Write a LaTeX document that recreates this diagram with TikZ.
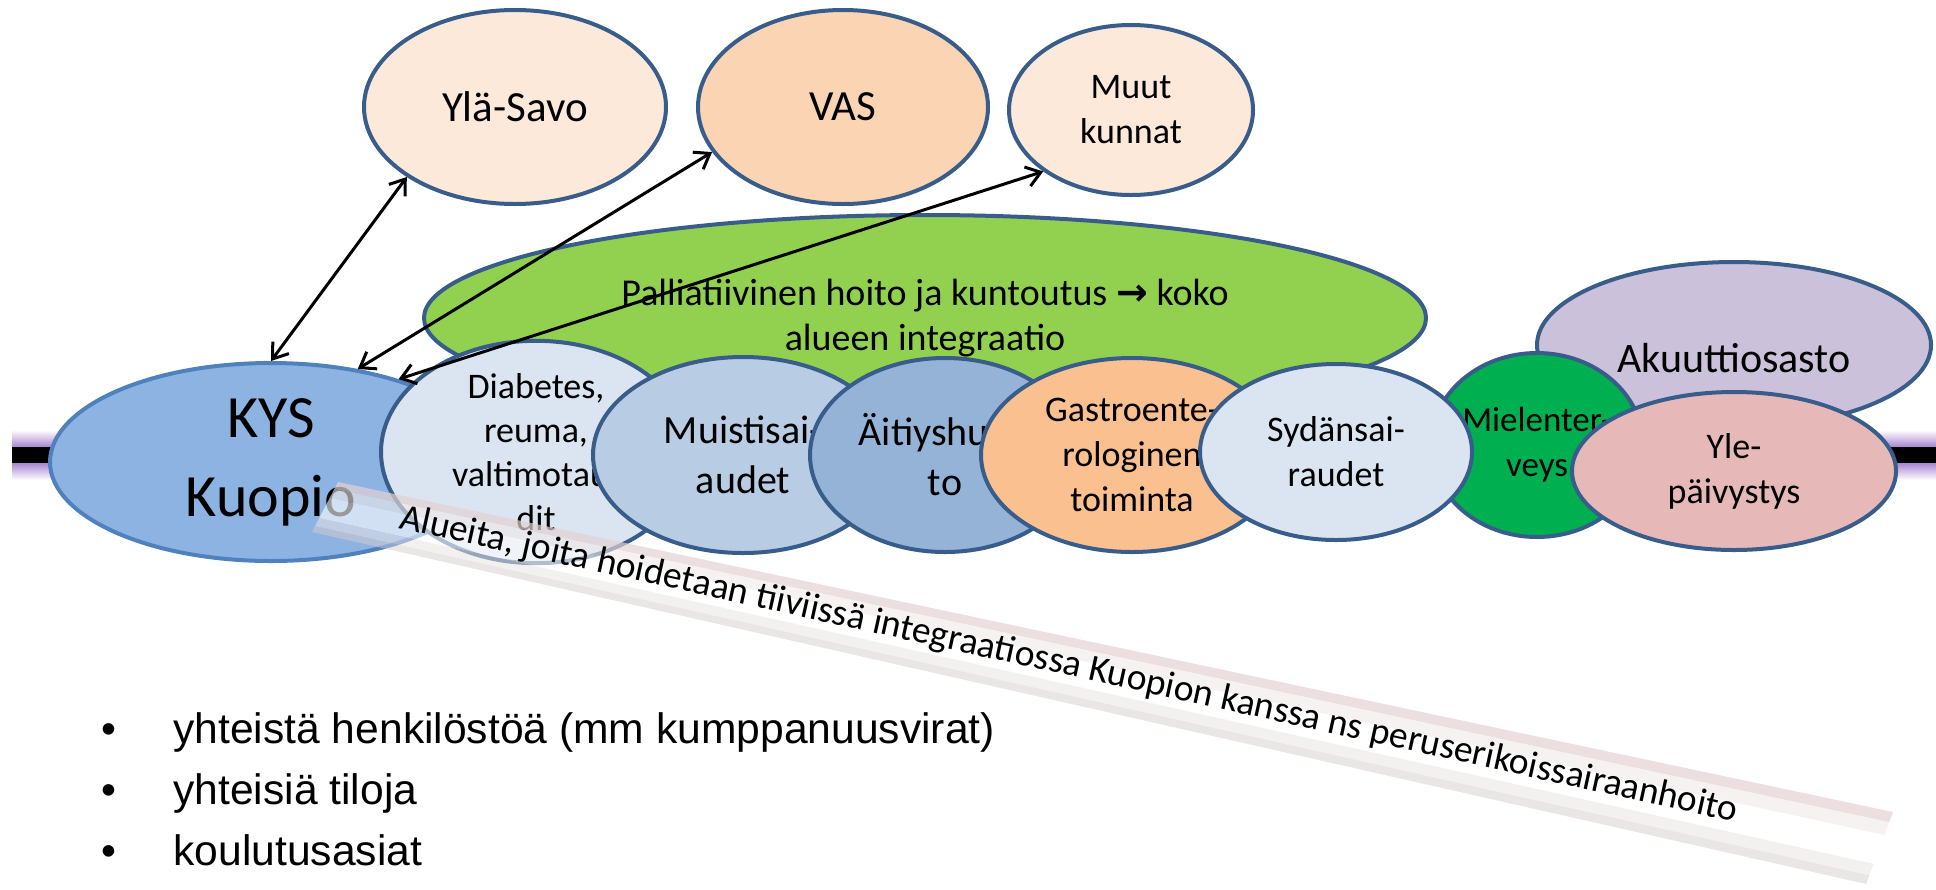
\documentclass[tikz,border=0pt]{standalone}
\usepackage{fontspec}
\setmainfont{Carlito}
\newfontfamily\listfont{Liberation Sans}
\newfontfamily\arrowsfont{DejaVu Sans}
\usetikzlibrary{arrows.meta,shapes.geometric,calc}
\definecolor{rim}{HTML}{385D8A}
\definecolor{kysrim}{HTML}{4F81BD}
\definecolor{kysfill}{HTML}{8DB3E2}
\definecolor{peach}{HTML}{FDE9D9}
\definecolor{apricot}{HTML}{FBD4B4}
\definecolor{leaf}{HTML}{92D050}
\definecolor{paleblue}{HTML}{DBE5F1}
\definecolor{midblue}{HTML}{B8CCE4}
\definecolor{steel}{HTML}{95B3D7}
\definecolor{salmon}{HTML}{FAC090}
\definecolor{lilac}{HTML}{CCC1DA}
\definecolor{mint}{HTML}{00B050}
\definecolor{rose}{HTML}{E6B9B8}
\definecolor{glow}{HTML}{A886D0}
\definecolor{bandtop}{HTML}{E2D2D2}
\definecolor{bandlight}{HTML}{F2EAEA}
\definecolor{bandlow}{HTML}{EAE3E3}
\definecolor{bandshade}{HTML}{D6CECE}
\tikzset{
  blob/.style={ellipse, draw=rim, line width=2pt, inner sep=0pt, align=center,
    font=\fontsize{18}{22.5}\selectfont},
  link/.style={{Straight Barb[length=7pt,width=10pt]}-{Straight Barb[length=7pt,width=10pt]},
    line width=1.5pt},
}
\newcommand{\fs}[2]{\fontsize{#1}{#2}\selectfont}

\begin{document}
\begin{tikzpicture}[x=0.5pt, y=-0.5pt]
    \useasboundingbox (0,0) rectangle (1936,889);
    \shade[top color=white, bottom color=glow] (12,430) rectangle (1936,447);
    \shade[top color=glow, bottom color=white] (12,463) rectangle (1936,480);
    \fill[black] (12,447) rectangle (1936,463);
    \node[blob, fill=leaf, minimum width=501pt, minimum height=103pt, font=\fs{19}{22.5}] (pall) at (925,318) {Palliatiivinen hoito ja kuntoutus {\arrowsfont\bfseries →} koko\\alueen integraatio};
    \node[blob, fill=peach, minimum width=151pt, minimum height=97pt, font=\fs{21.5}{26}] (yla) at (515,107) {Ylä-Savo};
    \node[blob, fill=apricot, minimum width=145pt, minimum height=97pt, font=\fs{21.5}{26}] (vas) at (843,107) {VAS};
    \node[blob, fill=peach, minimum width=122pt, minimum height=85pt] (muut) at (1131,110) {Muut\\kunnat};
    \node[blob, draw=kysrim, fill=kysfill, minimum width=221pt, minimum height=99pt, font=\fs{30}{39.5}] (kys) at (271,462) {KYS\\Kuopio};
    \node[blob, fill=paleblue, minimum width=155pt, minimum height=90pt, font=\fs{18}{22}] (diab) at (536,452) {Diabetes,\\reuma,\\valtimotau-\\dit};
    \node[blob, fill=midblue, minimum width=150pt, minimum height=98pt, font=\fs{20}{25}] (muisti) at (743,455) {Muistisai-\\audet};
    \node[blob, fill=steel, minimum width=135pt, minimum height=97pt, font=\fs{20}{25}] (aiti) at (945,455) {Äitiyshuol-\\to};
    \node[blob, fill=salmon, minimum width=151pt, minimum height=97pt] (gastro) at (1132,455) {Gastroente-\\rologinen\\toiminta};
    \node[blob, fill=lilac, minimum width=197pt, minimum height=83pt, font=\fs{21}{25}, text height=27pt, text depth=0pt] (akuut) at (1734,345) {Akuuttiosasto};
    \node[blob, fill=mint, minimum width=106pt, minimum height=92pt, font=\fs{17.5}{22.5}] (mielen) at (1537,445) {Mielenter-\\veys};
    \node[blob, fill=paleblue, minimum width=136pt, minimum height=88pt] (sydan) at (1336,452) {Sydänsai-\\raudet};
    \node[blob, fill=rose, minimum width=162pt, minimum height=79pt] (yle) at (1734,471) {Yle-\\päivystys};
    \coordinate (bA) at (338,482); \coordinate (bB) at (1893,812);
    \coordinate (bC) at (1866,884); \coordinate (bD) at (312,532);
    \foreach \lo/\hi/\col/\op in {0/.14/bandtop/.7, .14/.32/bandlight/.6, .32/.72/white/.6, .72/.88/bandlow/.55, .88/1/bandshade/.5}
      \fill[\col, opacity=\op] ($(bA)!\lo!(bD)$) -- ($(bB)!\lo!(bC)$) -- ($(bB)!\hi!(bC)$) -- ($(bA)!\hi!(bD)$) -- cycle;
    \node[anchor=base west, rotate=-12.4, inner sep=0pt, font=\fs{18.8}{20}] (bandtxt) at (398,528) {Alueita, joita hoidetaan tiiviissä integraatiossa Kuopion kanssa ns peruserikoissairaanhoito};
    \draw[link] (kys.north) -- (yla.south west);
    \draw[link] (kys.47) -- (vas.199);
    \draw[link] (kys.33) -- (muut.215);
    \node[anchor=base west, inner sep=0pt, font=\listfont\fs{21.3}{30.5}] (list) at (101,743) {\begin{tabular}[t]{@{}p{36pt}@{}l@{}}
      \textbullet & yhteistä henkilöstöä (mm kumppanuusvirat)\\
      \textbullet & yhteisiä tiloja\\
      \textbullet & koulutusasiat
    \end{tabular}};
  \end{tikzpicture}
\end{document}
